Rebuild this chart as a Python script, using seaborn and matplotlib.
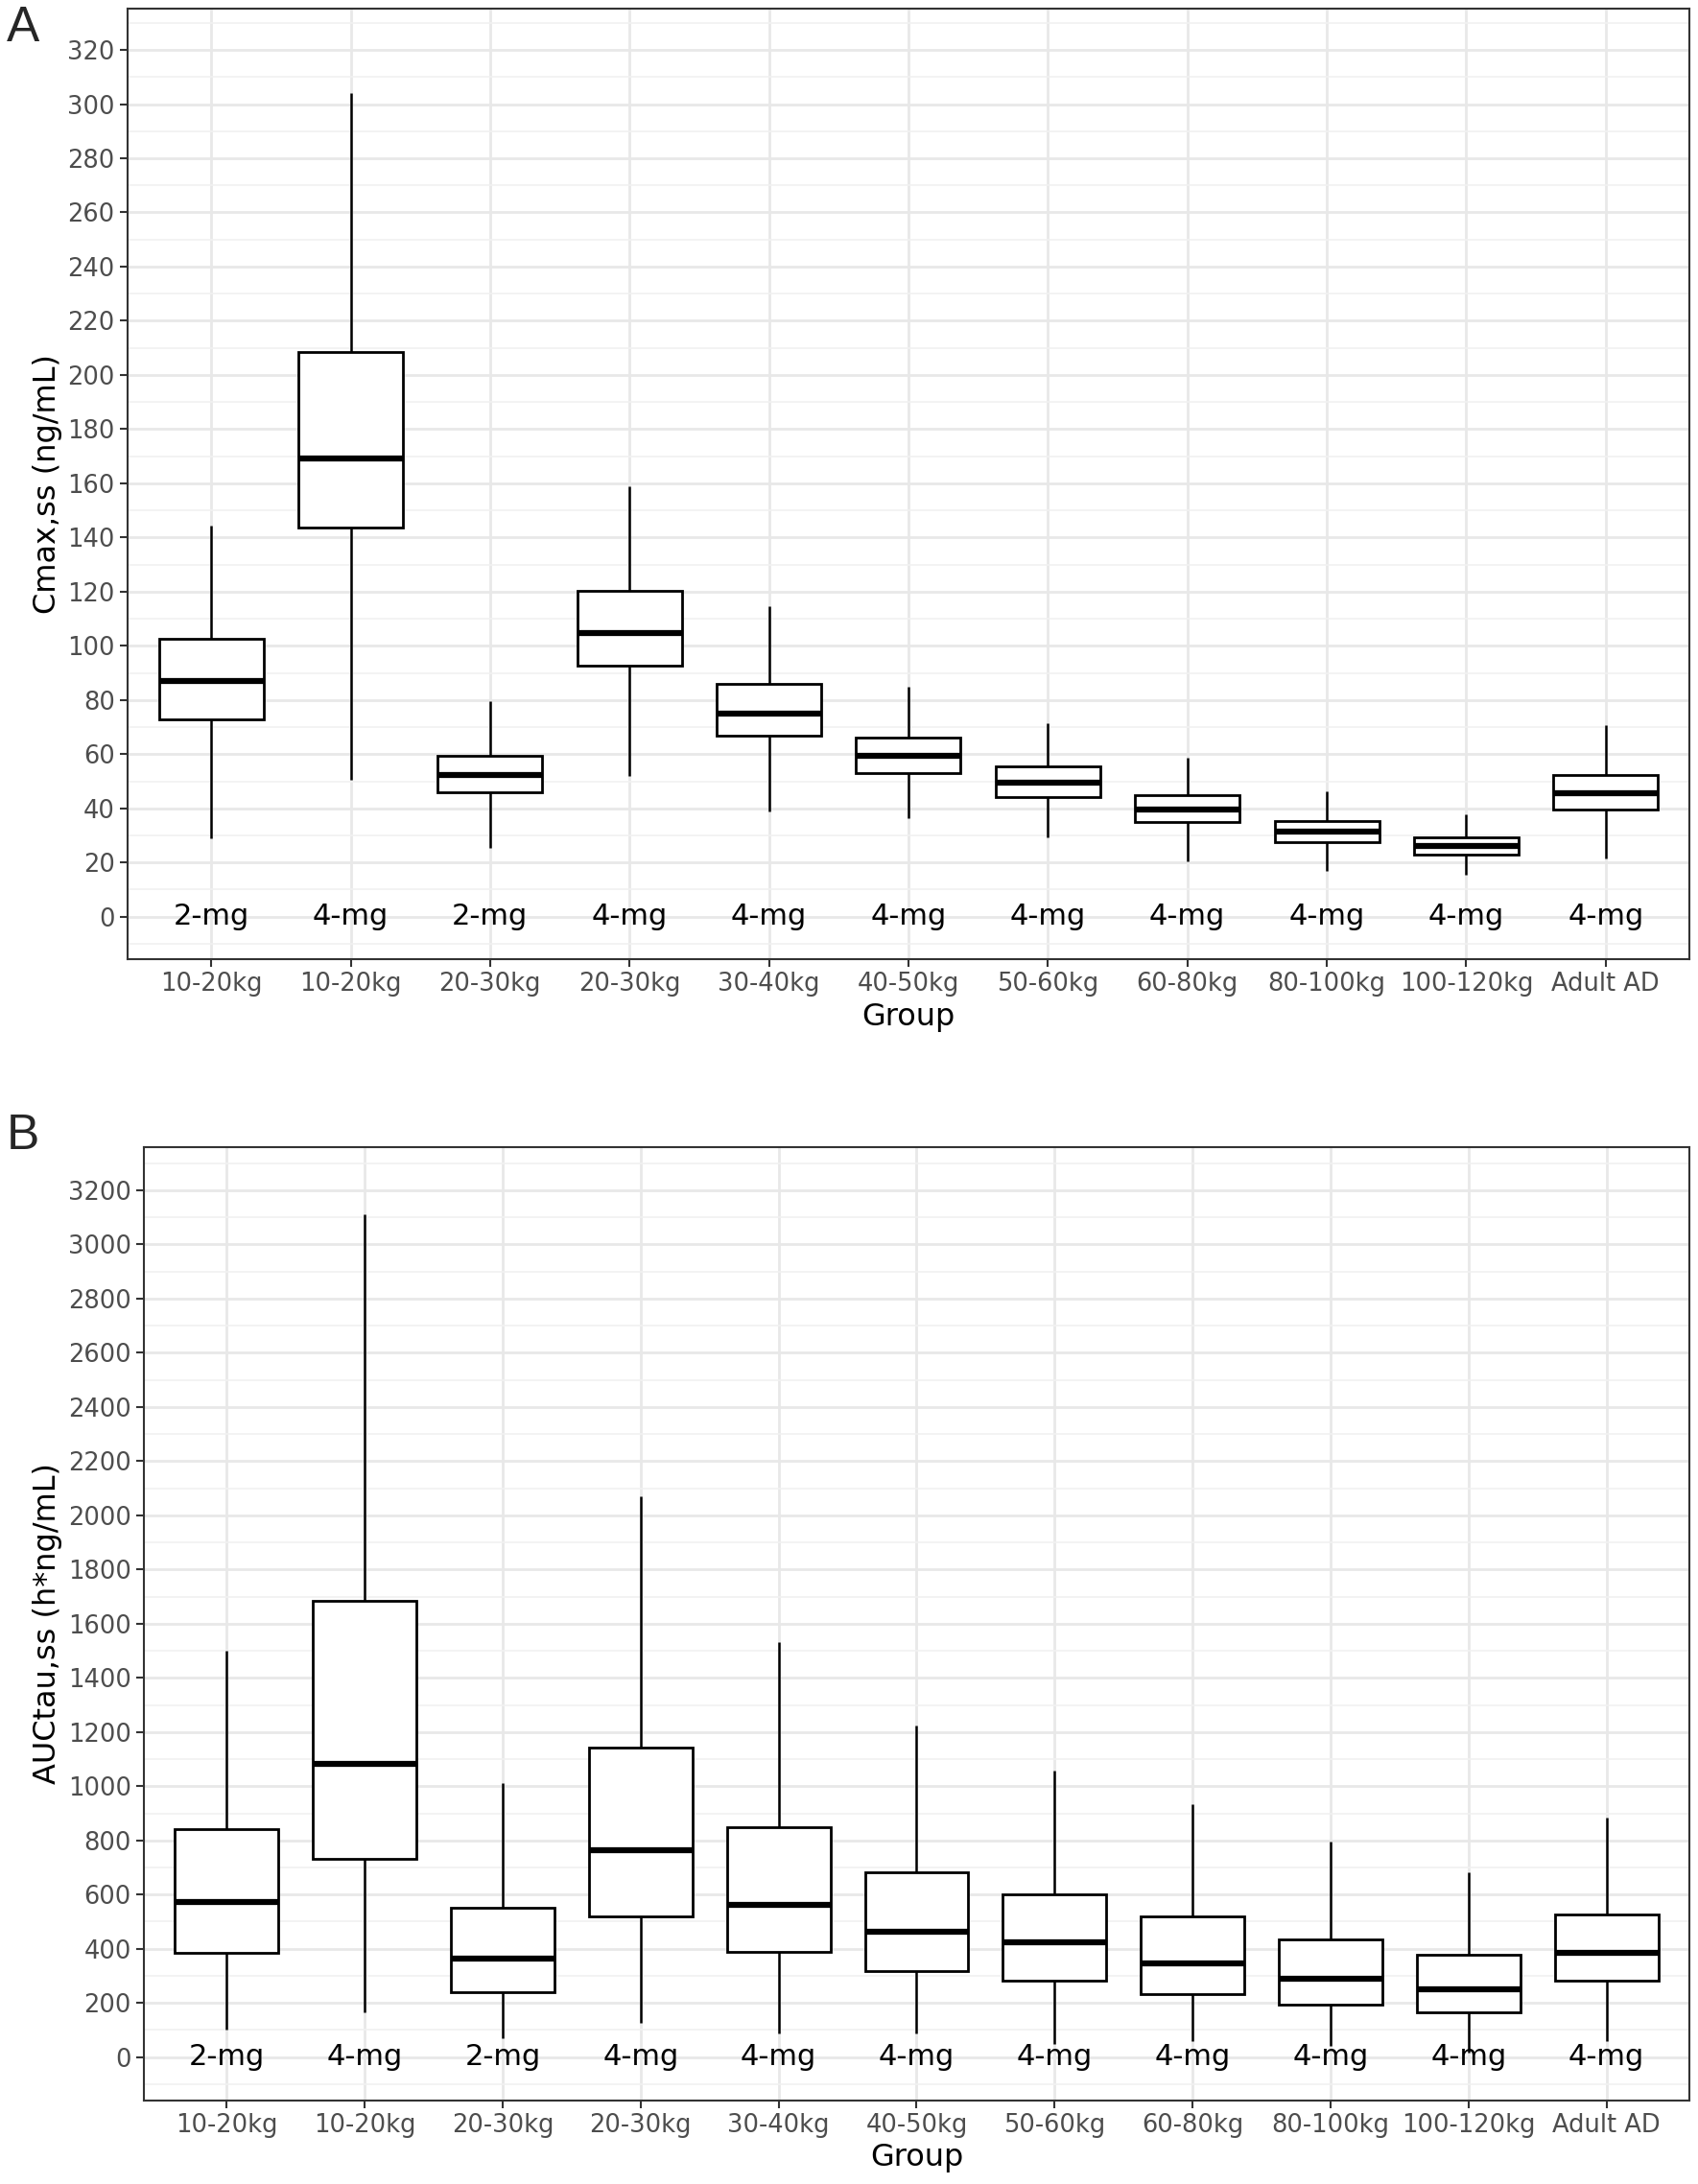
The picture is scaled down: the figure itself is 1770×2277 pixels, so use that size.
import numpy as np
import pandas as pd
import matplotlib
matplotlib.use('Agg')
import matplotlib.pyplot as plt
from matplotlib.ticker import MultipleLocator
import seaborn as sns

# x categories and dose labels
groups = ['10-20kg', '10-20kg', '20-30kg', '20-30kg', '30-40kg', '40-50kg',
          '50-60kg', '60-80kg', '80-100kg', '100-120kg', 'Adult AD']
doses = ['2-mg', '4-mg', '2-mg', '4-mg', '4-mg', '4-mg',
         '4-mg', '4-mg', '4-mg', '4-mg', '4-mg']

# Cmax,ss summaries (min, Q1, median, Q3, max)
cmax_min = [29, 50.5, 25.3, 52, 39, 36.2, 29.4, 20.6, 17, 15.6, 21.5]
cmax_q1 = [72.8, 143.5, 45.8, 92.6, 67, 53, 44.2, 34.8, 27.6, 23, 39.5]
cmax_med = [87, 169, 52.3, 104.8, 75, 59.5, 49.5, 39.5, 31.5, 26, 45.6]
cmax_q3 = [102.6, 208.3, 59.5, 120.3, 86, 66.2, 55.6, 44.7, 35.4, 29.2, 52.4]
cmax_max = [144.5, 304, 79.5, 158.8, 114.5, 84.8, 71.5, 58.8, 46.2, 37.8, 70.6]

# AUCtau,ss summaries (min, Q1, median, Q3, max)
auc_min = [102, 165, 69, 128, 89, 89, 49, 60, 43, 17, 60]
auc_q1 = [385, 733, 241, 518, 388, 316, 281, 234, 195, 167, 281]
auc_med = [573, 1081, 365, 763, 561, 462, 423, 346, 290, 249, 385]
auc_q3 = [840, 1684, 553, 1143, 850, 684, 600, 518, 436, 378, 527]
auc_max = [1501, 3111, 1010, 2071, 1531, 1224, 1059, 935, 796, 684, 885]

keys = [g + '\n' + d for g, d in zip(groups, doses)]


def long_table(mins, q1s, meds, q3s, maxs):
    rows = []
    for k, a, b, c, d, e in zip(keys, mins, q1s, meds, q3s, maxs):
        for v in (a, b, c, d, e):
            rows.append({'key': k, 'value': v})
    return pd.DataFrame(rows)


cmax_df = long_table(cmax_min, cmax_q1, cmax_med, cmax_q3, cmax_max)
auc_df = long_table(auc_min, auc_q1, auc_med, auc_q3, auc_max)

sns.set_theme(style='white')
plt.rcParams['font.family'] = ['DejaVu Sans']


def draw_panel(ax, df, ylabel, ylim, major, minor):
    sns.boxplot(data=df, x='key', y='value', order=keys, whis=(0, 100),
                width=0.75, color='white', linecolor='black', linewidth=2.0,
                showcaps=False, fliersize=0,
                medianprops=dict(linewidth=4.5, color='black'),
                whiskerprops=dict(linewidth=1.8, color='black'), ax=ax)
    for i, d in enumerate(doses):
        ax.text(i, 0, d, ha='center', va='center', fontsize=22, color='black')
    ax.set_xlim(-0.6, 10.6)
    ax.set_ylim(*ylim)
    ax.set_xticks(range(len(groups)))
    ax.set_xticklabels(groups)
    ax.yaxis.set_major_locator(MultipleLocator(major))
    ax.yaxis.set_minor_locator(MultipleLocator(minor))
    ax.set_axisbelow(True)
    ax.grid(which='major', color='#e8e8e8', linewidth=2.0)
    ax.grid(which='minor', axis='y', color='#f1f1f1', linewidth=1.2)
    ax.tick_params(which='major', length=6, width=1.5, color='#333333',
                   labelcolor='#4d4d4d', labelsize=18.5, left=True, bottom=True)
    ax.tick_params(which='minor', length=0)
    for s in ax.spines.values():
        s.set_color('#333333')
        s.set_linewidth(1.5)
    ax.set_xlabel('Group', fontsize=23, color='black')
    ax.set_ylabel(ylabel, fontsize=23, color='black')


fig = plt.figure(figsize=(17.7, 22.77), dpi=100)
ax1 = fig.add_axes([0.0751, 0.5608, 0.9198, 0.4352])
ax2 = fig.add_axes([0.0847, 0.0384, 0.9102, 0.4363])

draw_panel(ax1, cmax_df, 'Cmax,ss (ng/mL)', (-15.7, 335.2), 20, 10)
draw_panel(ax2, auc_df, 'AUCtau,ss (h*ng/mL)', (-159, 3359), 200, 100)

fig.text(0.004, 0.998, 'A', fontsize=37, va='top', ha='left',
         family=['Liberation Sans'])
fig.text(0.004, 1 - 1160 / 2277, 'B', fontsize=37, va='top', ha='left',
         family=['Liberation Sans'])

fig.savefig('out.png', dpi=100)
